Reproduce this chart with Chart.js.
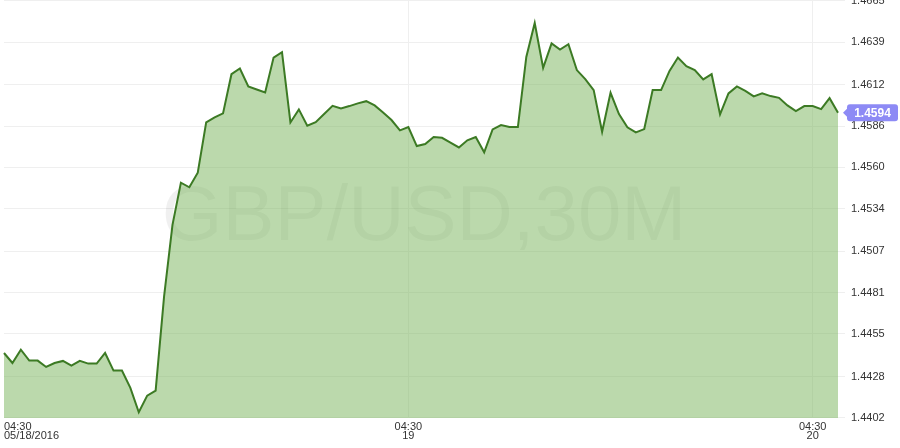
<!DOCTYPE html>
<html>
<head>
<meta charset="utf-8">
<script src="https://cdn.jsdelivr.net/npm/chart.js@4.4.0/dist/chart.umd.min.js"></script>
<style>
  html, body { margin: 0; padding: 0; background: #fff; }
  #wrap { position: relative; width: 900px; height: 448px; }
</style>
</head>
<body>
<div id="wrap"><canvas id="fxChart" width="900" height="448"></canvas></div>
<script>
var symbol = "GBP/USD,30M";

// 30 minute closes, 04:30 05/18/2016 .. 06:00 05/20/2016
var closes = [
  1.44429, 1.44366, 1.44450, 1.44381, 1.44381, 1.44341, 1.44366, 1.44379, 1.44349, 1.44379,
  1.44362, 1.44362, 1.44429, 1.44318, 1.44318, 1.44209, 1.44055, 1.44160, 1.44192, 1.44784,
  1.45237, 1.45503, 1.45474, 1.45566, 1.45883, 1.45915, 1.45940, 1.46187, 1.46223, 1.46110,
  1.46091, 1.46072, 1.46292, 1.46326, 1.45883, 1.45965, 1.45862, 1.45885, 1.45936, 1.45988,
  1.45971, 1.45986, 1.46003, 1.46017, 1.45990, 1.45946, 1.45898, 1.45833, 1.45854, 1.45734,
  1.45747, 1.45791, 1.45786, 1.45756, 1.45725, 1.45770, 1.45791, 1.45695, 1.45839, 1.45866,
  1.45854, 1.45854, 1.46296, 1.46510, 1.46227, 1.46381, 1.46343, 1.46376, 1.46213, 1.46156,
  1.46087, 1.45824, 1.46070, 1.45936, 1.45852, 1.45820, 1.45841, 1.46087, 1.46087, 1.46208,
  1.46292, 1.46238, 1.46213, 1.46154, 1.46187, 1.45934, 1.46066, 1.46110, 1.46082, 1.46047,
  1.46066, 1.46049, 1.46038, 1.45990, 1.45955, 1.45986, 1.45986, 1.45967, 1.46036, 1.45944
];

var xTickIdx = [0, 48, 96];
var xTickLabels = [["04:30", "05/18/2016"], ["04:30", "19"], ["04:30", "20"]];
var yTicks = [1.4402, 1.4428, 1.4455, 1.4481, 1.4507, 1.4534, 1.4560, 1.4586, 1.4612, 1.4639, 1.4665];
var yMin = 1.44019, yMax = 1.46655;

// bar times as category labels
var times = [];
for (var i = 0; i < closes.length; i++) {
  var m = (4 * 60 + 30 + i * 30) % (24 * 60);
  var hh = Math.floor(m / 60), mm = m % 60;
  times.push((hh < 10 ? "0" : "") + hh + ":" + (mm < 10 ? "0" : "") + mm);
}

Chart.defaults.font.family = "'Liberation Sans', Arial, sans-serif";
Chart.defaults.color = "#333";

var watermark = {
  id: "watermark",
  beforeDatasetsDraw: function(chart) {
    var ctx = chart.ctx, a = chart.chartArea;
    ctx.save();
    ctx.font = "78px 'Liberation Sans', Arial, sans-serif";
    ctx.fillStyle = "rgba(0,0,0,0.06)";
    ctx.textAlign = "center";
    ctx.textBaseline = "alphabetic";
    ctx.fillText(symbol, (a.left + a.right) / 2 + 3, 240);
    ctx.restore();
  }
};

var lastPrice = {
  id: "lastPrice",
  afterDraw: function(chart) {
    var ctx = chart.ctx, a = chart.chartArea;
    var last = closes[closes.length - 1];
    var y = chart.scales.y.getPixelForValue(last);
    var x0 = a.right + 9, w = 51, h = 17;
    ctx.save();
    ctx.fillStyle = "#8d8af5";
    ctx.beginPath();
    ctx.moveTo(a.right + 5, y);
    ctx.lineTo(x0 + 1, y - 5);
    ctx.lineTo(x0 + 1, y + 5);
    ctx.closePath();
    ctx.fill();
    ctx.beginPath();
    ctx.roundRect(x0, y - h / 2, w, h, 3);
    ctx.fill();
    ctx.fillStyle = "#fff";
    ctx.font = "bold 12px 'Liberation Sans', Arial, sans-serif";
    ctx.textAlign = "center";
    ctx.textBaseline = "middle";
    ctx.fillText(last.toFixed(4), x0 + w / 2, y + 0.5);
    ctx.restore();
  }
};

var chart = new Chart("fxChart", {
  type: "line",
  data: {
    labels: times,
    datasets: [{
      data: closes,
      borderColor: "#3c7a24",
      backgroundColor: "rgba(120,180,90,0.5)",
      borderWidth: 2,
      pointRadius: 0,
      tension: 0,
      fill: "start"
    }]
  },
  options: {
    responsive: false,
    animation: false,
    layout: { padding: { left: 2, top: 0, right: 0, bottom: 0 } },
    plugins: { legend: { display: false }, tooltip: { enabled: false } },
    scales: {
      x: {
        offset: false,
        border: { display: false },
        grid: {
          drawTicks: false,
          color: function(c) {
            return (c.tick && (c.tick.value === 48 || c.tick.value === 96)) ? "#efefef" : "rgba(0,0,0,0)";
          }
        },
        ticks: {
          autoSkip: false,
          maxRotation: 0,
          align: "inner",
          padding: 4,
          font: { size: 11, lineHeight: 0.82 },
          callback: function(v) {
            var k = xTickIdx.indexOf(v);
            return k >= 0 ? xTickLabels[k] : "";
          }
        },
        afterBuildTicks: function(s) {
          s.ticks = xTickIdx.concat([closes.length - 1]).map(function(v) { return { value: v }; });
        },
        afterFit: function(s) { s.height = 30; }
      },
      y: {
        position: "right",
        min: yMin,
        max: yMax,
        border: { display: false },
        grid: { color: "#efefef", tickLength: 7 },
        ticks: {
          padding: 6,
          font: { size: 11 },
          callback: function(v) { return v.toFixed(4); }
        },
        afterBuildTicks: function(s) {
          s.ticks = yTicks.map(function(v) { return { value: v }; });
        },
        afterFit: function(s) { s.width = 62; s.paddingTop = 0; }
      }
    }
  },
  plugins: [watermark, lastPrice]
});
</script>
</body>
</html>
